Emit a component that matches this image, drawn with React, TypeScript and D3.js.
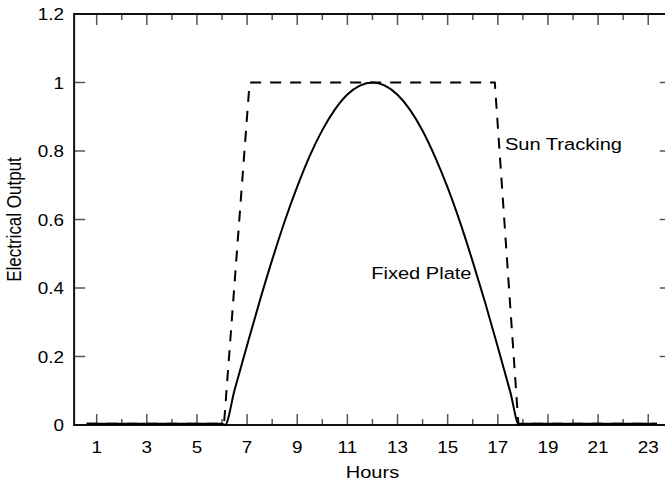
import React from "react";
import * as d3 from "d3";

const sunHours = [0.6, 6.08, 7.1, 16.88, 17.82, 23.35];
const sunValues = [0.004, 0.004, 1, 1, 0.004, 0.004];

const fixedHours = [0.6, 6.0, 6.12, 6.5, 7, 7.5, 8, 8.5, 9, 9.5, 10, 10.5, 11, 11.5, 12, 12.5, 13, 13.5, 14, 14.5, 15, 15.5, 16, 16.5, 17, 17.5, 17.85, 17.97, 23.35];
const fixedValues = [0.004, 0.004, 0, 0.102, 0.233, 0.361, 0.482, 0.595, 0.696, 0.786, 0.861, 0.921, 0.965, 0.991, 1.0, 0.991, 0.964, 0.92, 0.859, 0.782, 0.693, 0.591, 0.477, 0.356, 0.228, 0.096, 0, 0.004, 0.004];

const xTicks = d3.range(1, 24);
const xLabelTicks = [1, 3, 5, 7, 9, 11, 13, 15, 17, 19, 21, 23];
const yTicks = [0, 0.2, 0.4, 0.6, 0.8, 1, 1.2];
const yTickLabels = ["0", "0.2", "0.4", "0.6", "0.8", "1", "1.2"];

const W = 665;
const H = 486;
const FONT = "'Liberation Sans', Arial, Helvetica, sans-serif";
const SX = 1.18;

function T({ x, y, size, anchor, children, rotate }: any) {
  const tr = `translate(${x},${y}) scale(${SX},1)` + (rotate ? ` rotate(${rotate})` : "");
  return (
    <text transform={tr} textAnchor={anchor || "start"} fontSize={size} fill="#000">
      {children}
    </text>
  );
}

export default function App() {
  const x = d3.scaleLinear().domain([0, 24]).range([71.6, 673.3]);
  const y = d3.scaleLinear().domain([0, 1.2]).range([425, 14]);
  const left = x(0.1);
  const right = x(23.9);
  const top = y(1.2);
  const bottom = y(0);

  const line = d3
    .line<[number, number]>()
    .x((d) => x(d[0]))
    .y((d) => y(d[1]));
  const curve = d3
    .line<[number, number]>()
    .x((d) => x(d[0]))
    .y((d) => y(d[1]))
    .curve(d3.curveMonotoneX);

  const sunData: [number, number][] = sunHours.map((h, i) => [h, sunValues[i]]);
  const fixedData: [number, number][] = fixedHours.map((h, i) => [h, fixedValues[i]]);

  return (
    <svg
      width={W}
      height={H}
      style={{ position: "fixed", left: 0, top: 0, background: "#fff" }}
      fontFamily={FONT}
    >
      <rect x={0} y={0} width={W} height={H} fill="#fff" />
      {xTicks.map((t) => {
        const len = t % 2 === 1 ? 11 : 6;
        return (
          <g key={"xt" + t} stroke="#555" strokeWidth={1.5}>
            <line x1={x(t)} x2={x(t)} y1={bottom} y2={bottom - len} />
            <line x1={x(t)} x2={x(t)} y1={top} y2={top + len} />
          </g>
        );
      })}
      {yTicks.map((t) => (
        <g key={"yt" + t} stroke="#555" strokeWidth={1.5}>
          <line x1={left} x2={left + 11} y1={y(t)} y2={y(t)} />
          <line x1={right} x2={right - 11} y1={y(t)} y2={y(t)} />
        </g>
      ))}
      <rect
        x={left}
        y={top}
        width={right - left}
        height={bottom - top}
        fill="none"
        stroke="#111"
        strokeWidth={2}
      />
      {xLabelTicks.map((t) => (
        <T key={"xl" + t} x={x(t)} y={453} size={16} anchor="middle">
          {t}
        </T>
      ))}
      {yTicks.map((t, i) => (
        <T key={"yl" + t} x={64} y={y(t) + 6} size={16} anchor="end">
          {yTickLabels[i]}
        </T>
      ))}
      <T x={x(12)} y={478} size={17} anchor="middle">
        Hours
      </T>
      <T x={21} y={(top + bottom) / 2} size={17} anchor="middle" rotate={-90}>
        Electrical Output
      </T>
      <path
        d={line(sunData) || ""}
        fill="none"
        stroke="#000"
        strokeWidth={2}
        strokeDasharray="11,9"
      />
      <path d={curve(fixedData) || ""} fill="none" stroke="#000" strokeWidth={2} />
      <T x={505} y={150} size={17}>
        Sun Tracking
      </T>
      <T x={471.5} y={279} size={17} anchor="end">
        Fixed Plate
      </T>
    </svg>
  );
}
